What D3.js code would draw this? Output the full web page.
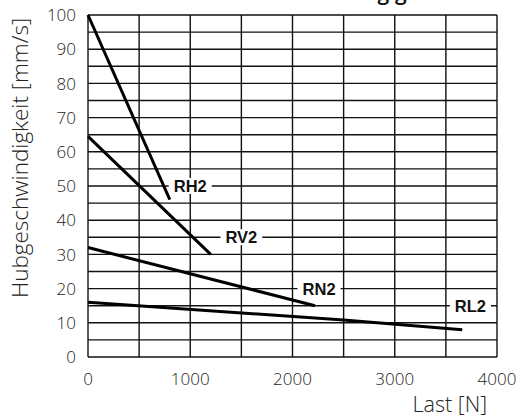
<!DOCTYPE html>
<html><head><meta charset="utf-8">
<script src="https://cdn.jsdelivr.net/npm/d3@7"></script>
<style>body{margin:0;background:#fff}svg{display:block}</style>
</head><body>
<svg id="c" width="522" height="417"></svg>
<script>
const seriesNames = ["RH2", "RV2", "RN2", "RL2"];
const rh2 = [[0, 100], [800, 46]];
const rv2 = [[0, 64.5], [1200, 30]];
const rn2 = [[0, 32], [2220, 15]];
const rl2 = [[0, 16], [2500, 10.8], [3660, 8]];
const labelAnchors = [[1000, 50], [1500, 35], [2260, 20], [3740, 15]];
const xTicks = [0, 1000, 2000, 3000, 4000];
const yTicks = [0, 10, 20, 30, 40, 50, 60, 70, 80, 90, 100];
const xGrid = d3.range(0, 4001, 500);
const yGrid = d3.range(0, 101, 5);
const xTitle = "Last [N]";
const yTitle = "Hubgeschwindigkeit [mm/s]";
const topTitle = "Lastabhängigkeit";

const svg = d3.select("#c");
const x = d3.scaleLinear().domain([0, 4000]).range([88, 497]);
const y = d3.scaleLinear().domain([0, 100]).range([357, 15]);
const font = "'Open Sans', sans-serif";

// title, almost entirely above the visible area (as in the reference)
svg.append("text").attr("x", 445).attr("y", 0).attr("text-anchor", "end")
  .attr("font-family", font).attr("font-weight", 600).attr("font-size", 21).attr("fill", "#111")
  .text(topTitle);

// grid
const g = svg.append("g");
g.selectAll(".hg").data(yGrid).join("line")
  .attr("x1", x(0)).attr("x2", x(4000)).attr("y1", d => y(d)).attr("y2", d => y(d))
  .attr("stroke", "#111").attr("stroke-width", 1.4);
g.selectAll(".vg").data(xGrid).join("line")
  .attr("y1", y(0)).attr("y2", y(100)).attr("x1", d => x(d)).attr("x2", d => x(d))
  .attr("stroke", "#111").attr("stroke-width", 1.4);

// tick labels
svg.append("g").selectAll("text").data(yTicks).join("text")
  .attr("x", 76).attr("y", d => y(d)).attr("dy", "0.36em").attr("text-anchor", "end")
  .attr("font-family", font).attr("font-weight", 300).attr("font-size", 17).attr("fill", "#222").text(d => d);
svg.append("g").selectAll("text").data(xTicks).join("text")
  .attr("x", d => x(d)).attr("y", 385).attr("text-anchor", "middle")
  .attr("font-family", font).attr("font-weight", 300).attr("font-size", 17).attr("fill", "#222").text(d => d);

// axis titles
svg.append("text").attr("transform", "translate(28,158) rotate(-90)")
  .attr("text-anchor", "middle").attr("font-family", font).attr("font-weight", 300)
  .attr("font-size", 22.5).attr("fill", "#222").text(yTitle);
svg.append("text").attr("x", 487).attr("y", 412).attr("text-anchor", "end")
  .attr("font-family", font).attr("font-weight", 300).attr("font-size", 21.5).attr("fill", "#222").text(xTitle);

// labels with white boxes
const lab = svg.append("g");
labelAnchors.forEach((p, i) => {
  const t = lab.append("text").attr("x", x(p[0])).attr("y", y(p[1])).attr("dy", "0.36em")
    .attr("text-anchor", "middle").attr("font-family", "'Liberation Sans', Arial, sans-serif")
    .attr("font-weight", "bold").attr("font-size", 16.5).attr("fill", "#111").text(seriesNames[i]);
  const b = t.node().getBBox();
  lab.insert("rect", "text").attr("x", b.x - 5).attr("y", b.y + 1).attr("width", b.width + 10).attr("height", b.height - 2).attr("fill", "#fff");
});

// series lines
const line = d3.line().x(d => x(d[0])).y(d => y(d[1]));
svg.append("g").selectAll("path").data([rh2, rv2, rn2, rl2]).join("path")
  .attr("d", line).attr("fill", "none").attr("stroke", "#000").attr("stroke-width", 3);
</script>
</body></html>
